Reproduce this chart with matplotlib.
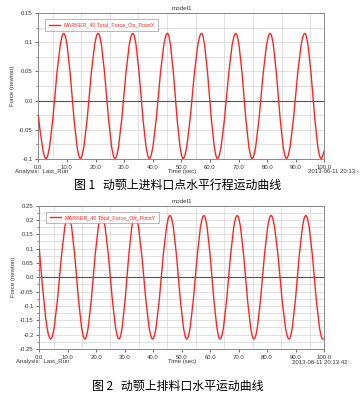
import matplotlib
matplotlib.use("Agg")
import matplotlib.pyplot as plt
from matplotlib.path import Path
from matplotlib.patches import PathPatch
from matplotlib.lines import Line2D
from matplotlib.ticker import MultipleLocator

plt.rcParams['font.family'] = ['Liberation Sans', 'DejaVu Sans']

# ---- data (time of key points, force value) ----
x_t = [0.0, 2.7, 8.9, 14.7, 20.9, 26.8, 33.0, 38.8, 45.1, 50.6, 57.0,
       62.6, 69.0, 74.7, 81.0, 86.7, 93.1, 98.8, 100.0]
x_v = [-0.025, -0.099, 0.115, -0.099, 0.115, -0.099, 0.115, -0.099, 0.115,
       -0.099, 0.115, -0.099, 0.115, -0.099, 0.115, -0.099, 0.115, -0.099, -0.085]

y_t = [0.0, 4.0, 10.2, 16.0, 21.9, 28.0, 33.6, 39.8, 45.9, 51.8, 57.8,
       63.5, 69.5, 75.4, 81.4, 87.7, 93.6, 99.6, 100.0]
y_v = [0.10, -0.215, 0.215, -0.215, 0.215, -0.215, 0.215, -0.215, 0.215,
       -0.215, 0.215, -0.215, 0.215, -0.215, 0.215, -0.215, 0.215, -0.215, -0.213]

x_ticks = [0, 10, 20, 30, 40, 50, 60, 70, 80, 90, 100]
x_ticklabels = ["0.0", "10.0", "20.0", "30.0", "40.0", "50.0", "60.0",
                "70.0", "80.0", "90.0", "100.0"]
y1_ticks = [-0.1, -0.05, 0.0, 0.05, 0.1, 0.15]
y1_labels = ["-0.1", "-0.05", "0.0", "0.05", "0.1", "0.15"]
y2_ticks = [-0.25, -0.2, -0.15, -0.1, -0.05, 0.0, 0.05, 0.1, 0.15, 0.2, 0.25]
y2_labels = ["-0.25", "-0.2", "-0.15", "-0.1", "-0.05", "0.0", "0.05",
             "0.1", "0.15", "0.2", "0.25"]

legend1 = "MARKER_40.Total_Force_On_PointX"
legend2 = "MARKER_40.Total_Force_On_PointY"
caption1 = "图 1   动颚上进料口点水平行程运动曲线"
caption2 = "图 2   动颚上排料口水平运动曲线"
date1 = "2013-06-11 20:13:-"
date2 = "2013-06-11 20:13:42"

RED = "#ff2424"
W, H = 360, 393
fig = plt.figure(figsize=(W / 100, H / 100), dpi=100)
fig.patch.set_facecolor("white")


def smooth_path(ts, vs):
    K = 0.3642
    verts = [(ts[0], vs[0])]
    codes = [Path.MOVETO]
    n = len(ts)
    for i in range(n - 1):
        t0, v0, t1, v1 = ts[i], vs[i], ts[i + 1], vs[i + 1]
        dt = t1 - t0
        if i == 0:
            c1 = (t0 + dt / 3, v0 + (v1 - v0) / 2)
        else:
            c1 = (t0 + K * dt, v0)
        if i == n - 2:
            c2 = (t1 - dt / 3, v1 - (v1 - v0) / 3)
        else:
            c2 = (t1 - K * dt, v1)
        verts += [c1, c2, (t1, v1)]
        codes += [Path.CURVE4] * 3
    return Path(verts, codes)


def px_rect(l, t, r, b):
    return [l / W, 1 - b / H, (r - l) / W, (b - t) / H]


def make_panel(rect, ts, vs, ylim, yticks, ylabels, legend_text, ygrid):
    ax = fig.add_axes(rect)
    ax.set_xlim(0, 100)
    ax.set_ylim(*ylim)
    for g in range(5, 100, 10):
        ax.axvline(g, color="#d4d4d4", lw=0.5, zorder=0)
    g = ylim[0]
    while g <= ylim[1] + 1e-9:
        ax.axhline(g, color="#d4d4d4", lw=0.5, zorder=0)
        g += ygrid
    ax.axhline(0.0, color="#555555", lw=0.8, zorder=1)
    patch = PathPatch(smooth_path(ts, vs), facecolor="none", edgecolor=RED,
                      lw=1.0, zorder=3)
    ax.add_patch(patch)
    ax.set_xticks(x_ticks)
    ax.set_xticklabels(x_ticklabels)
    ax.set_yticks(yticks)
    ax.set_yticklabels(ylabels)
    ax.yaxis.set_minor_locator(MultipleLocator(ygrid))
    ax.tick_params(axis="both", which="major", labelsize=4.3, colors="#333333",
                   length=2, width=0.5, pad=2)
    ax.tick_params(axis="y", which="minor", length=1.2, width=0.4,
                   color="#333333")
    for sp in ax.spines.values():
        sp.set_color("#888888")
        sp.set_linewidth(0.7)
    ax.set_title("model1", fontsize=4.5, color="#333333", pad=2)
    ax.set_ylabel("Force (newton)", fontsize=4.3, color="#333333", labelpad=3)
    h = Line2D([], [], color=RED, lw=1.0)
    leg = ax.legend([h], [legend_text], loc="upper left", fontsize=3.9,
                    frameon=True, fancybox=False, borderpad=0.6,
                    handlelength=2.2, handletextpad=0.6,
                    bbox_to_anchor=(0.015, 0.975))
    leg.get_frame().set_edgecolor("#999999")
    leg.get_frame().set_linewidth(0.6)
    for txt in leg.get_texts():
        txt.set_color(RED)
    return ax


ax1 = make_panel(px_rect(38.3, 13, 324.5, 159), x_t, x_v, (-0.1, 0.15),
                 y1_ticks, y1_labels, legend1, 0.025)
ax2 = make_panel(px_rect(39.3, 205.5, 324, 349), y_t, y_v, (-0.25, 0.25),
                 y2_ticks, y2_labels, legend2, 0.025)


def ftext(x, y, s, **kw):
    fig.text(x / W, 1 - y / H, s, **kw)


ftext(15, 171.5, "Analysis:  Last_Run", fontsize=4.3, color="#333333",
      va="center", ha="left")
ftext(182, 171.5, "Time (sec)", fontsize=4.3, color="#333333", va="center",
      ha="center")
ftext(359, 171.5, date1, fontsize=4.3, color="#333333", va="center", ha="right")
ftext(178, 185, caption1, fontsize=8.6, va="center", ha="center",
      family=["Noto Sans CJK SC", "DejaVu Sans"])

ftext(16, 362, "Analysis:  Last_Run", fontsize=4.3, color="#333333",
      va="center", ha="left")
ftext(182, 361, "Time (sec)", fontsize=4.3, color="#333333", va="center",
      ha="center")
ftext(347, 362, date2, fontsize=4.3, color="#333333", va="center", ha="right")
ftext(178, 386, caption2, fontsize=8.6, va="center", ha="center",
      family=["Noto Sans CJK SC", "DejaVu Sans"])

fig.savefig("out.png", dpi=100)
